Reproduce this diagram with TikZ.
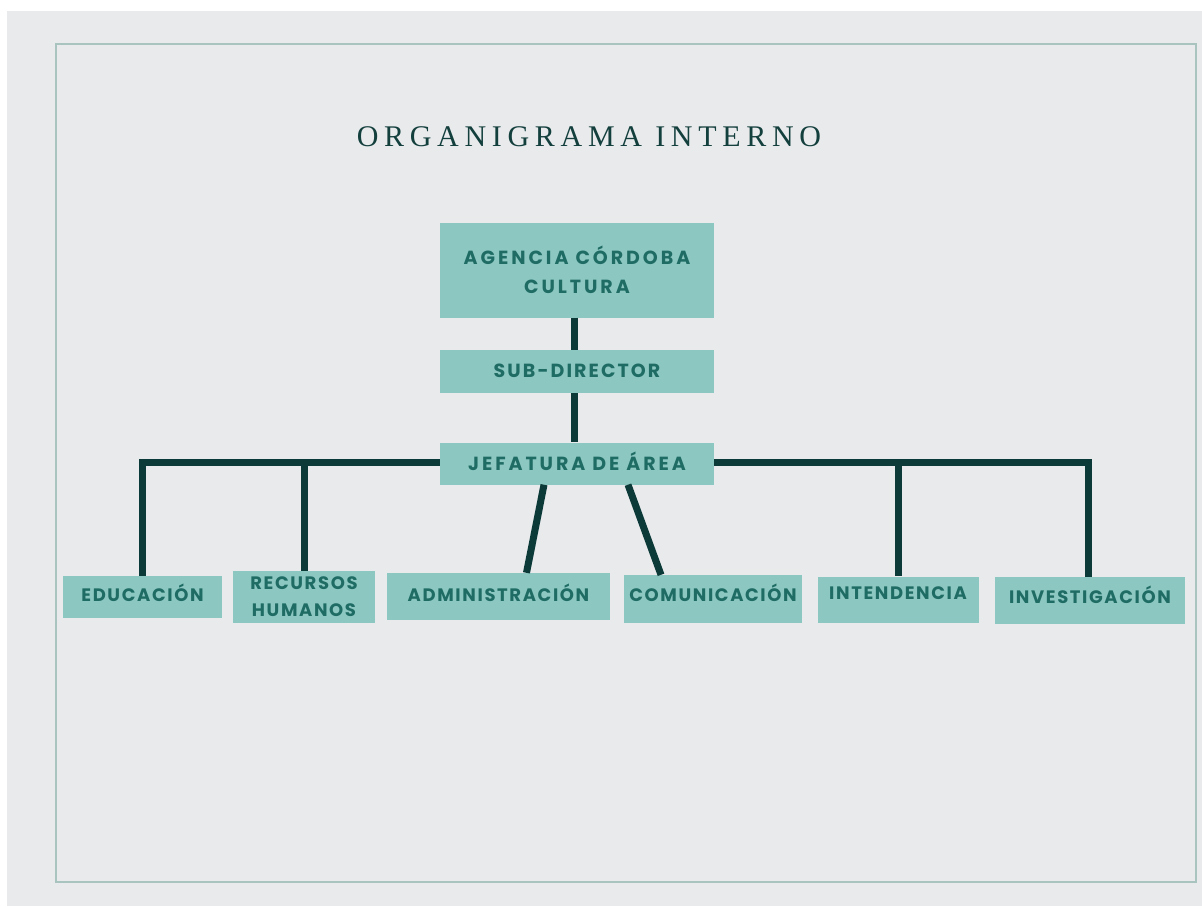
\documentclass[tikz,border=0pt]{standalone}
\usepackage{fontspec}
\newfontfamily\boxfont[LetterSpace=11]{Poppins}
\newfontfamily\boxfontw[LetterSpace=15.5]{Poppins}
\newfontfamily\boxfontn[LetterSpace=9]{Poppins}
\newfontfamily\titlefont[LetterSpace=19]{Liberation Serif}
\definecolor{pagebg}{HTML}{E9EAEC}
\definecolor{framec}{HTML}{A9C3BE}
\definecolor{boxfill}{HTML}{8CC7C2}
\definecolor{boxtext}{HTML}{1F6C64}
\definecolor{linec}{HTML}{0B3A38}
\definecolor{titlec}{HTML}{133F3D}
\begin{document}
\begin{tikzpicture}[x=1pt,y=-1pt,
  orgbox/.style={fill=boxfill, draw=none, inner sep=0pt, align=center,
    font=\boxfont\bfseries\fontsize{19}{29}\selectfont, text=boxtext},
  widebox/.style={font=\boxfontw\bfseries\fontsize{19}{29}\selectfont},
  narrowbox/.style={font=\boxfontn\bfseries\fontsize{18}{27}\selectfont},
  oneline/.style={text height=13.3pt, text depth=#1},
  oneline/.default=0pt,
  onelinen/.style={text height=12.6pt, text depth=#1},
  onelinen/.default=0pt,
  conn/.style={draw=linec, line width=7pt}]
\useasboundingbox (0,0) rectangle (1202,906);
\fill[white] (0,0) rectangle (1202,906);
\fill[pagebg] (7,11) rectangle (1202,906);
\draw[framec, line width=1.5pt] (56,44) rectangle (1196,882);
\node[text=titlec, font=\titlefont\fontsize{30}{34}\selectfont] (title) at (589,137) {ORGANIGRAMA INTERNO};
% boxes
\node[orgbox, widebox, minimum width=274pt, minimum height=95pt] (agencia) at (577,270) {AGENCIA CÓRDOBA\\CULTURA};
\node[orgbox, oneline=2pt, minimum width=274pt, minimum height=43pt] (sub) at (577,371.5) {SUB-DIRECTOR};
\node[orgbox, widebox, oneline, minimum width=274pt, minimum height=42pt] (jef) at (577,463.5) {JEFATURA DE ÁREA};
\node[orgbox, narrowbox, onelinen=4pt, minimum width=159pt, minimum height=42pt] (edu) at (142.5,597) {EDUCACIÓN};
\node[orgbox, narrowbox, minimum width=142pt, minimum height=52pt] (rec) at (304,597) {RECURSOS\\HUMANOS};
\node[orgbox, narrowbox, onelinen=3pt, minimum width=223pt, minimum height=47pt] (adm) at (498.5,596.5) {ADMINISTRACIÓN};
\node[orgbox, narrowbox, onelinen=8pt, minimum width=178pt, minimum height=48pt] (com) at (713,599) {COMUNICACIÓN};
\node[orgbox, narrowbox, onelinen=12pt, minimum width=161pt, minimum height=46pt] (int) at (898,599.5) {INTENDENCIA};
\node[orgbox, narrowbox, onelinen=6pt, minimum width=190pt, minimum height=47pt] (inv) at (1090,600.5) {INVESTIGACIÓN};
% connectors
\draw[conn] ([xshift=-3pt]agencia.south) -- ([xshift=-3pt]sub.north);
\draw[conn] ([xshift=-3pt]sub.south) -- ([xshift=-3pt]jef.north);
\draw[conn] ([yshift=1.5pt]jef.west) -| (edu.north);
\draw[conn] ([yshift=1.5pt]jef.west -| rec.north) -- (rec.north);
\draw[conn] ([yshift=1pt]jef.east) -| ([xshift=-2pt]inv.north);
\draw[conn] ([yshift=1pt]jef.east -| int.north) -- (int.north);
\draw[conn] ([xshift=-33pt]jef.south) -- ([xshift=28pt]adm.north);
\draw[conn] ([xshift=51pt]jef.south) -- ([xshift=-52pt]com.north);
\end{tikzpicture}
\end{document}
